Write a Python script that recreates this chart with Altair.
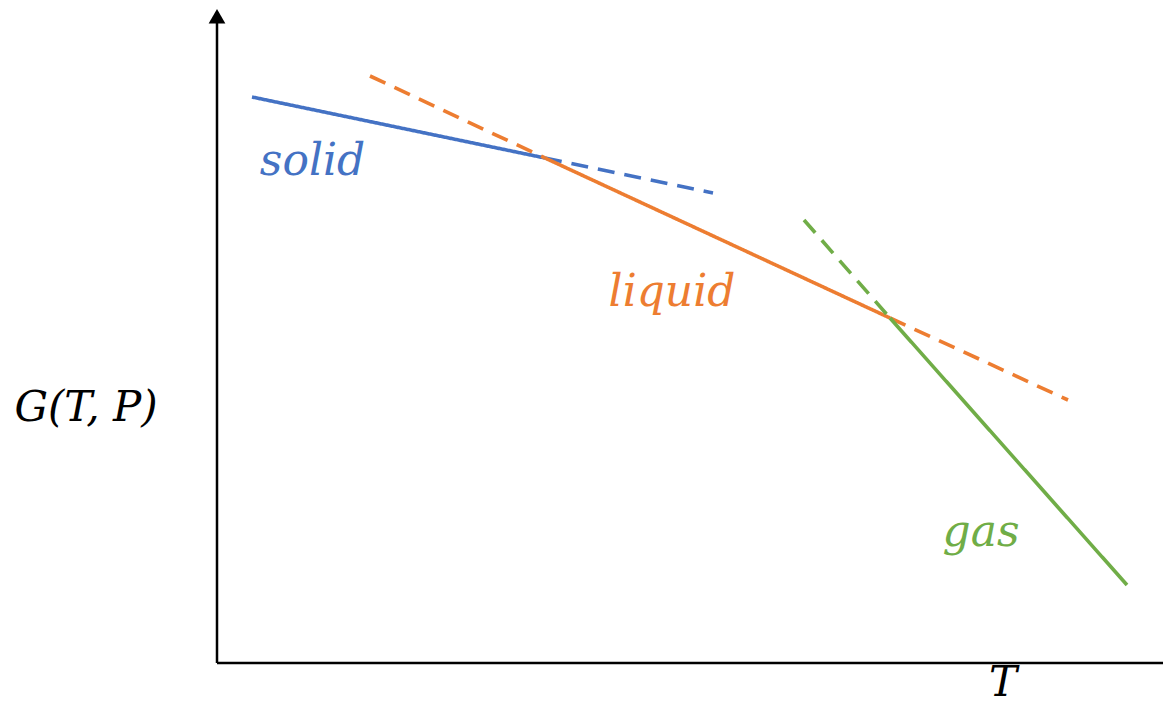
import altair as alt
import pandas as pd

# Segments of the Gibbs free-energy curves (arbitrary units: T right, G up)
seg_phase = ["solid", "solid", "liquid", "liquid", "liquid", "gas", "gas"]
seg_style = ["solid", "dashed", "dashed", "solid", "dashed", "dashed", "solid"]
seg_T0 = [0.35, 3.28, 1.53, 3.28, 6.73, 5.87, 6.73]
seg_G0 = [5.66, 5.05, 5.87, 5.05, 3.45, 4.43, 3.45]
seg_T1 = [3.28, 4.96, 3.28, 6.73, 8.51, 6.73, 9.10]
seg_G1 = [5.05, 4.70, 5.05, 3.45, 2.63, 3.45, 0.78]

# Phase labels
lab_text = ["solid", "liquid", "gas"]
lab_T = [0.955, 4.55, 7.64]
lab_G = [4.88, 3.57, 1.17]

# Axis titles
ax_text = ["G(T, P)", "T"]
ax_T = [-1.31, 7.86]
ax_G = [2.42, -0.33]

phase_names = ["solid", "liquid", "gas"]
phase_colors = ["#4472C4", "#ED7D31", "#70AD47"]

T_DOMAIN = [-2.09, 9.46]
G_DOMAIN = [-0.47, 6.55]

segs = pd.DataFrame({"phase": seg_phase, "style": seg_style,
                     "T0": seg_T0, "G0": seg_G0, "T1": seg_T1, "G1": seg_G1})
labels = pd.DataFrame({"text": lab_text, "T": lab_T, "G": lab_G})
axlab = pd.DataFrame({"text": ax_text, "T": ax_T, "G": ax_G})
axes_df = pd.DataFrame({"T0": [0, 0], "G0": [0, 0], "T1": [T_DOMAIN[1], 0], "G1": [0, 6.40]})
arrow_df = pd.DataFrame({"T": [0], "G": [6.468]})

xs = alt.Scale(domain=T_DOMAIN, nice=False, zero=False)
ys = alt.Scale(domain=G_DOMAIN, nice=False, zero=False)
color = alt.Scale(domain=phase_names, range=phase_colors)

lines = alt.Chart(segs).mark_rule(strokeWidth=3.6).encode(
    x=alt.X("T0:Q", scale=xs, axis=None),
    y=alt.Y("G0:Q", scale=ys, axis=None),
    x2="T1:Q", y2="G1:Q",
    color=alt.Color("phase:N", scale=color, legend=None),
    strokeDash=alt.StrokeDash("style:N",
                              scale=alt.Scale(domain=["solid", "dashed"], range=[[1, 0], [17, 10]]),
                              legend=None),
)

axes = alt.Chart(axes_df).mark_rule(strokeWidth=2.5, color="black").encode(
    x=alt.X("T0:Q", scale=xs, axis=None),
    y=alt.Y("G0:Q", scale=ys, axis=None),
    x2="T1:Q", y2="G1:Q",
)

arrow = alt.Chart(arrow_df).mark_point(shape="triangle-up", size=280, filled=True,
                                        color="black", opacity=1).encode(
    x=alt.X("T:Q", scale=xs, axis=None),
    y=alt.Y("G:Q", scale=ys, axis=None),
)

phase_text = alt.Chart(labels).mark_text(font="DejaVu Serif", fontStyle="italic", fontSize=44,
                                          align="center", baseline="alphabetic").encode(
    x=alt.X("T:Q", scale=xs, axis=None),
    y=alt.Y("G:Q", scale=ys, axis=None),
    text="text:N",
    color=alt.Color("text:N", scale=color, legend=None),
)

axis_text = alt.Chart(axlab).mark_text(font="DejaVu Serif", fontStyle="italic", fontSize=42,
                                        align="center", baseline="alphabetic", color="black").encode(
    x=alt.X("T:Q", scale=xs, axis=None),
    y=alt.Y("G:Q", scale=ys, axis=None),
    text="text:N",
)

chart = alt.layer(axes, arrow, lines, phase_text, axis_text).properties(
    width=1155, height=702, padding=0, autosize=alt.AutoSizeParams(type="none"),
).configure_view(stroke=None)

chart.save("out.html", embed_options={"renderer": "svg", "actions": False})
